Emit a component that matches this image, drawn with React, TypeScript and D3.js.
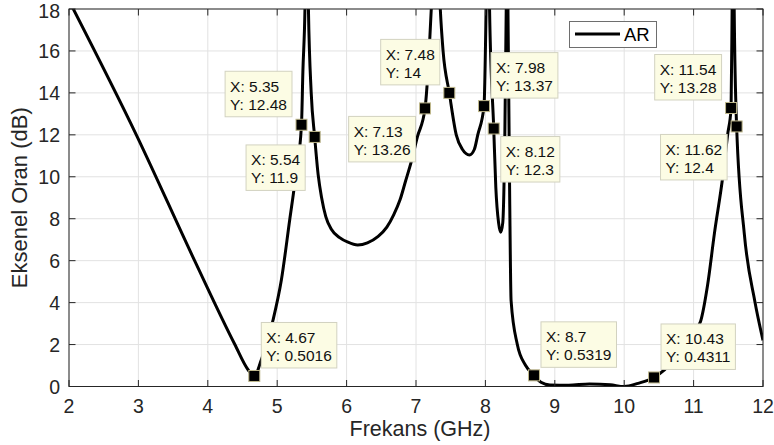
import React, { useEffect, useRef } from 'react';
import * as d3 from 'd3';

// frequency (GHz) and axial ratio (dB)
const freq = [
  2, 2.97, 3.81, 4.39, 4.58, 4.67,
  4.77, 4.94, 5.06, 5.18, 5.26, 5.35, 5.37, 5.4, 5.425, 5.45, 5.49, 5.54,
  5.59, 5.64, 5.7, 5.78, 5.9, 6.02, 6.16, 6.3, 6.45, 6.58, 6.68, 6.77, 6.85,
  6.93, 7.02, 7.13, 7.19, 7.22, 7.285, 7.35, 7.39, 7.48, 7.58, 7.67, 7.77,
  7.84, 7.89, 7.98, 8.01, 8.035, 8.06, 8.12, 8.15, 8.19, 8.22, 8.25, 8.28,
  8.3, 8.312, 8.325, 8.35, 8.37, 8.46, 8.58, 8.7, 8.8, 8.93, 9.2, 9.5, 9.8,
  10.0, 10.2, 10.43, 10.58, 10.8, 11.0, 11.1, 11.2, 11.3, 11.42, 11.49,
  11.54, 11.555, 11.57, 11.585, 11.62, 11.73, 11.88, 12,
];
const arDb = [
  18.4, 12, 6, 2, 0.8, 0.5016,
  1.26, 3.17, 5.08, 7.94, 9.85, 12.48, 15, 18, 24, 18, 14, 11.9,
  10.1, 9.0, 8.1, 7.5, 7.1, 6.88, 6.75, 6.85, 7.15, 7.6, 8.2, 8.9, 9.8,
  10.7, 11.9, 13.26, 16, 18, 24, 18, 16, 14, 12, 11.3, 11.04,
  11.3, 12, 13.37, 18, 24, 18, 12.3, 9.5, 7.8, 7.35, 7.8, 12,
  18, 24, 18, 9, 4.1, 2, 1.0, 0.5319, 0.2, 0.07, 0.06, 0.12, 0.08,
  0.0, 0.15, 0.4311, 0.79, 1.6, 2.6, 3.1, 4.8, 7.3, 10, 12,
  13.28, 18, 24, 18, 12.4, 7.3, 4.1, 2.2,
];

// data tips
const tipX = [4.67, 5.35, 5.54, 7.13, 7.48, 7.98, 8.12, 8.7, 10.43, 11.54, 11.62];
const tipY = [0.5016, 12.48, 11.9, 13.26, 14, 13.37, 12.3, 0.5319, 0.4311, 13.28, 12.4];
const tipSide = ['ne', 'nw', 'sw', 'sw', 'nw', 'ne', 'se', 'ne', 'ne', 'nw', 'sw'];

const xTicks = [2, 3, 4, 5, 6, 7, 8, 9, 10, 11, 12];
const yTicks = [0, 2, 4, 6, 8, 10, 12, 14, 16, 18];

const font = '"Liberation Sans", Arial, Helvetica, sans-serif';

const App = () => {
  const ref = useRef<SVGSVGElement>(null);

  useEffect(() => {
    const svg = d3.select(ref.current);
    svg.selectAll('*').remove();

    const width = 774;
    const height = 445;
    const margin = { top: 9, right: 11, bottom: 58.5, left: 69 };
    const axisColor = '#262626';

    const x = d3.scaleLinear().domain([2, 12]).range([margin.left, width - margin.right]);
    const y = d3.scaleLinear().domain([0, 18]).range([height - margin.bottom, margin.top]);
    const [x0, x1] = x.range();
    const [y0, y1] = y.range(); // y0 bottom, y1 top

    svg.append('rect').attr('width', width).attr('height', height).attr('fill', '#fff');

    // grid
    const grid = svg.append('g').attr('stroke', '#e2e2e2').attr('stroke-width', 1);
    xTicks.forEach((t) => {
      grid.append('line').attr('x1', x(t)).attr('x2', x(t)).attr('y1', y1).attr('y2', y0);
    });
    yTicks.forEach((t) => {
      grid.append('line').attr('x1', x0).attr('x2', x1).attr('y1', y(t)).attr('y2', y(t));
    });

    // curve
    svg.append('clipPath').attr('id', 'plot-clip')
      .append('rect').attr('x', x0).attr('y', y1).attr('width', x1 - x0).attr('height', y0 - y1);

    const line = d3.line<number>()
      .x((d, i) => x(freq[i]))
      .y((d) => y(d))
      .curve(d3.curveMonotoneX);

    svg.append('path')
      .attr('clip-path', 'url(#plot-clip)')
      .attr('d', line(arDb))
      .attr('fill', 'none')
      .attr('stroke', '#000')
      .attr('stroke-width', 3)
      .attr('stroke-linejoin', 'round');

    // box + ticks
    svg.append('rect')
      .attr('x', x0).attr('y', y1).attr('width', x1 - x0).attr('height', y0 - y1)
      .attr('fill', 'none').attr('stroke', axisColor).attr('stroke-width', 1);

    const ticks = svg.append('g').attr('stroke', axisColor).attr('stroke-width', 1);
    const tl = 6.5;
    xTicks.forEach((t) => {
      ticks.append('line').attr('x1', x(t)).attr('x2', x(t)).attr('y1', y0).attr('y2', y0 - tl);
      ticks.append('line').attr('x1', x(t)).attr('x2', x(t)).attr('y1', y1).attr('y2', y1 + tl);
    });
    yTicks.forEach((t) => {
      ticks.append('line').attr('x1', x0).attr('x2', x0 + tl).attr('y1', y(t)).attr('y2', y(t));
      ticks.append('line').attr('x1', x1).attr('x2', x1 - tl).attr('y1', y(t)).attr('y2', y(t));
    });

    // tick labels
    svg.append('g')
      .selectAll('text')
      .data(xTicks)
      .enter().append('text')
      .attr('x', (d) => x(d))
      .attr('y', y0 + 26.5)
      .attr('text-anchor', 'middle')
      .attr('font-family', font)
      .attr('font-size', 19.5)
      .attr('fill', axisColor)
      .text((d) => d);

    svg.append('g')
      .selectAll('text')
      .data(yTicks)
      .enter().append('text')
      .attr('x', x0 - 9)
      .attr('y', (d) => Math.max(y(d) + 7, 18))
      .attr('text-anchor', 'end')
      .attr('font-family', font)
      .attr('font-size', 19.5)
      .attr('fill', axisColor)
      .text((d) => d);

    // axis labels
    svg.append('text')
      .attr('x', (x0 + x1) / 2 + 4)
      .attr('y', 436)
      .attr('text-anchor', 'middle')
      .attr('font-family', font)
      .attr('font-size', 21.5)
      .attr('fill', axisColor)
      .text('Frekans (GHz)');

    svg.append('text')
      .attr('transform', `translate(27, ${(y0 + y1) / 2}) rotate(-90)`)
      .attr('text-anchor', 'middle')
      .attr('font-family', font)
      .attr('font-size', 22)
      .attr('fill', axisColor)
      .text('Eksenel Oran (dB)');

    // legend
    const lg = svg.append('g');
    lg.append('rect')
      .attr('x', 569.5).attr('y', 21.5).attr('width', 87).attr('height', 26)
      .attr('fill', '#fff').attr('stroke', '#6e6e6e').attr('stroke-width', 1);
    lg.append('line')
      .attr('x1', 575).attr('x2', 620).attr('y1', 34).attr('y2', 34)
      .attr('stroke', '#000').attr('stroke-width', 3);
    lg.append('text')
      .attr('x', 624).attr('y', 41)
      .attr('font-family', font).attr('font-size', 18.5).attr('fill', '#000')
      .text('AR');

    // data tips
    tipX.forEach((tx, i) => {
      const mx = x(tx);
      const my = y(tipY[i]);
      const side = tipSide[i];
      const g = svg.append('g');
      const box = g.append('rect')
        .attr('fill', '#fcfce4').attr('stroke', '#d2d2c0').attr('stroke-width', 1);
      const t1 = g.append('text')
        .attr('font-family', font).attr('font-size', 15.5).attr('fill', '#111')
        .text(`X: ${tx}`);
      const t2 = g.append('text')
        .attr('font-family', font).attr('font-size', 15.5).attr('fill', '#111')
        .text(`Y: ${tipY[i]}`);
      const tw = Math.max(
        (t1.node() as SVGTextElement).getComputedTextLength(),
        (t2.node() as SVGTextElement).getComputedTextLength()
      );
      const bw = tw + 10;
      const bh = 45.5;
      const bx = side.includes('e') ? mx + 7 : mx - 9.5 - bw;
      const by = side.includes('n') ? my - 8 - bh : my + 8;
      box.attr('x', bx).attr('y', by).attr('width', bw).attr('height', bh);
      t1.attr('x', bx + 5).attr('y', by + 20.5);
      t2.attr('x', bx + 5).attr('y', by + 38.5);

      svg.append('rect')
        .attr('x', mx - 5.5).attr('y', my - 5.5).attr('width', 11).attr('height', 11)
        .attr('fill', '#000').attr('stroke', '#bfb88c').attr('stroke-width', 1);
    });
  }, []);

  return (
    <svg
      ref={ref}
      width={774}
      height={445}
      style={{ position: 'absolute', left: 0, top: 0, display: 'block' }}
    />
  );
};

export default App;
